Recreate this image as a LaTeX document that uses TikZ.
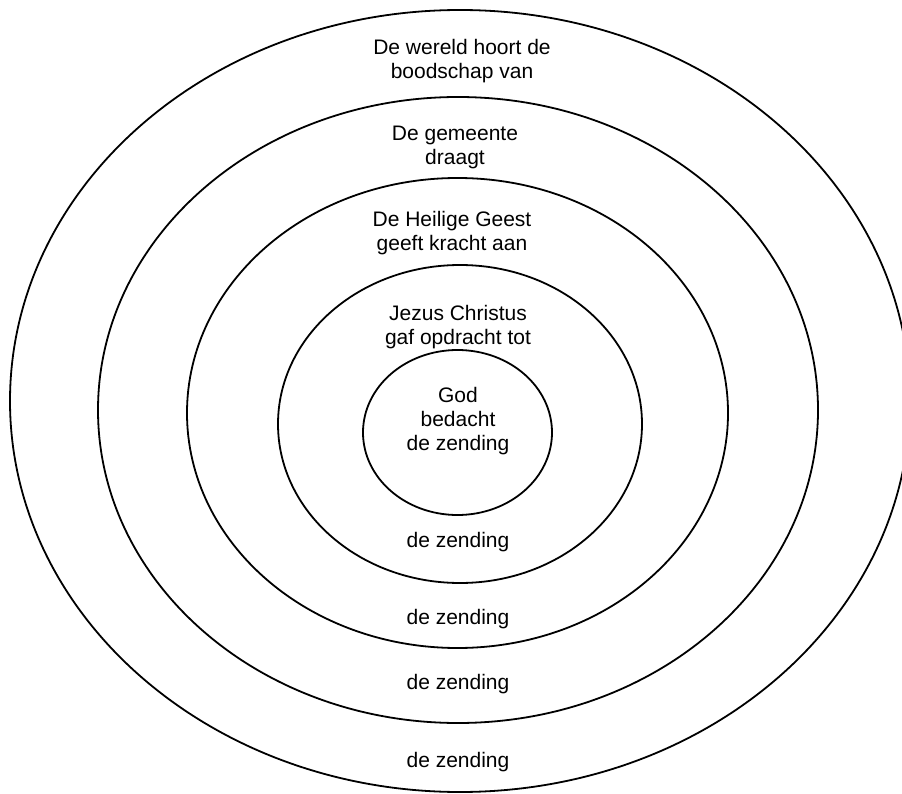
\documentclass[tikz,border=0pt]{standalone}
\usepackage{fontspec}
\setmainfont{Liberation Sans}
\begin{document}
\begin{tikzpicture}[x=1pt,y=-1pt,
  ring/.style={line width=1.8pt},
  lbl/.style={font=\fontsize{21}{24}\selectfont, align=center, anchor=base, inner sep=0pt}]
\useasboundingbox (0,0) rectangle (902,794);
% rings
\draw[ring] (460,401) ellipse [x radius=450, y radius=391];
\draw[ring] (458,410) ellipse [x radius=360, y radius=313];
\draw[ring] (457.5,413) ellipse [x radius=270.5, y radius=235];
\draw[ring] (460,424) ellipse [x radius=182, y radius=159];
\draw[ring] (457.5,432.5) ellipse [x radius=94.5, y radius=82.5];
% headings (anchor = baseline of last line)
\node[lbl] (wereld) at (462,78.5) {De wereld hoort de\\boodschap van};
\node[lbl] (gemeente) at (455,165) {De gemeente\\draagt};
\node[lbl] (geest) at (452,250.7) {De Heilige Geest\\geeft kracht aan};
\node[lbl] (jezus) at (458,344) {Jezus Christus\\gaf opdracht tot};
\node[lbl] (god) at (458,450.7) {God\\bedacht\\de zending};
% bottom labels
\node[lbl] (z1) at (458,547) {de zending};
\node[lbl] (z2) at (458,624) {de zending};
\node[lbl] (z3) at (458,689) {de zending};
\node[lbl] (z4) at (458,767) {de zending};
\end{tikzpicture}
\end{document}
